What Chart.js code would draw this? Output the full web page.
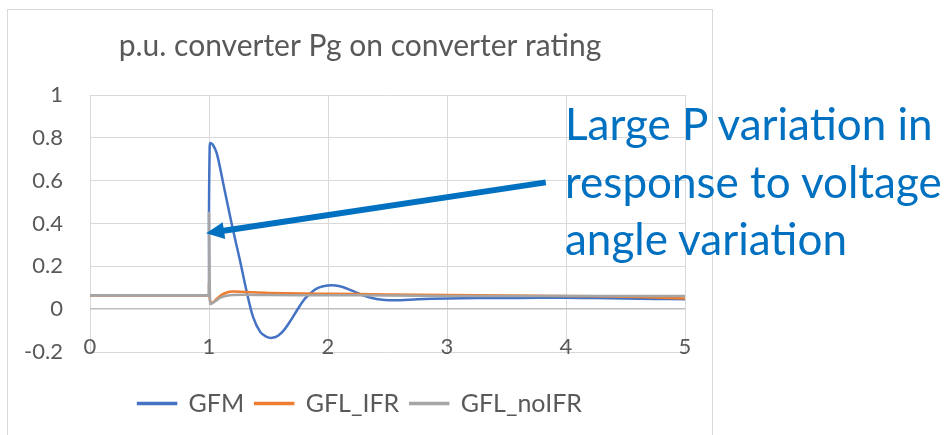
<!DOCTYPE html>
<html>
<head>
<meta charset="utf-8">
<script src="https://cdn.jsdelivr.net/npm/chart.js@4.4.1/dist/chart.umd.min.js"></script>
<style>
  html, body { margin: 0; padding: 0; background: #fff; }
  body { width: 950px; height: 435px; position: relative; overflow: hidden; }
  #frame {
    position: absolute; left: 7px; top: 9px; width: 704px; height: 440px;
    border: 1px solid #d9d9d9;
  }
  #chart { display: block; }
  #note {
    position: absolute; left: 565px; top: 95px;
    font-family: Lato, sans-serif; font-size: 44px; line-height: 57.5px;
    color: #0070C0; white-space: nowrap;
  }
</style>
</head>
<body>
<div id="frame"><canvas id="chart" width="704" height="425"></canvas></div>
<div id="note">Large P variation in<br>response to voltage<br>angle variation</div>
<script>
// --- 1. Data (time in s, power in p.u.) ---
const gfmTime = [0, 0.99, 1, 1, 1.005, 1.01, 1.03, 1.066, 1.12, 1.19, 1.26, 1.32, 1.37, 1.43, 1.48, 1.53, 1.58, 1.63, 1.69, 1.74, 1.8, 1.85, 1.9, 1.96, 2.03, 2.1, 2.16, 2.23, 2.3, 2.37, 2.44, 2.52, 2.61, 2.75, 3, 3.25, 3.5, 3.75, 4, 4.25, 4.5, 4.75, 5];
const gfmValues = [0.065, 0.065, 0.065, 0.47, 0.74, 0.775, 0.77, 0.726, 0.586, 0.40, 0.228, 0.073, -0.036, -0.106, -0.128, -0.134, -0.124, -0.098, -0.05, -0.005, 0.045, 0.073, 0.095, 0.107, 0.112, 0.107, 0.096, 0.08, 0.063, 0.052, 0.045, 0.042, 0.042, 0.046, 0.05, 0.052, 0.052, 0.053, 0.053, 0.052, 0.05, 0.048, 0.046];

const ifrTime = [0, 0.99, 1, 1, 1.01, 1.03, 1.06, 1.1, 1.15, 1.2, 1.3, 1.5, 1.8, 2, 2.5, 3, 3.5, 4, 4.5, 5];
const ifrValues = [0.065, 0.065, 0.065, 0.12, 0.035, 0.03, 0.045, 0.065, 0.078, 0.082, 0.08, 0.076, 0.073, 0.072, 0.069, 0.066, 0.064, 0.062, 0.058, 0.05];

const noIfrTime = [0, 0.99, 1, 1, 1.01, 1.03, 1.06, 1.1, 1.15, 1.2, 1.3, 1.5, 2, 2.5, 3, 3.5, 4, 4.5, 5];
const noIfrValues = [0.065, 0.065, 0.065, 0.45, 0.025, 0.028, 0.04, 0.055, 0.063, 0.066, 0.067, 0.066, 0.065, 0.064, 0.062, 0.062, 0.061, 0.062, 0.062];

const seriesNames = ['GFM', 'GFL_IFR', 'GFL_noIFR'];
const seriesColors = ['#4472C4', '#ED7D31', '#A5A5A5'];

// arrow annotation, in data units: tail -> head
const arrowFrom = [3.83, 0.592];
const arrowTo = [0.976, 0.354];

const toPoints = (xs, ys) => xs.map((x, i) => ({ x: x, y: ys[i] }));

// --- 2. Arrow plugin ---
const arrowPlugin = {
    id: 'arrow',
    afterDatasetsDraw(chart) {
        const { ctx, scales: { x, y } } = chart;
        const x0 = x.getPixelForValue(arrowFrom[0]), y0 = y.getPixelForValue(arrowFrom[1]);
        const x1 = x.getPixelForValue(arrowTo[0]), y1 = y.getPixelForValue(arrowTo[1]);
        const ang = Math.atan2(y1 - y0, x1 - x0);
        const headLen = 18, headHalf = 8.5;
        const bx = x1 - headLen * Math.cos(ang), by = y1 - headLen * Math.sin(ang);
        ctx.save();
        ctx.strokeStyle = '#0070C0';
        ctx.fillStyle = '#0070C0';
        ctx.lineWidth = 6;
        ctx.beginPath();
        ctx.moveTo(x0, y0);
        ctx.lineTo(bx + 2 * Math.cos(ang), by + 2 * Math.sin(ang));
        ctx.stroke();
        ctx.beginPath();
        ctx.moveTo(x1, y1);
        ctx.lineTo(bx - headHalf * Math.sin(ang), by + headHalf * Math.cos(ang));
        ctx.lineTo(bx + headHalf * Math.sin(ang), by - headHalf * Math.cos(ang));
        ctx.closePath();
        ctx.fill();
        ctx.restore();
    }
};

// --- 3. Chart ---
Chart.defaults.font.family = 'Lato, sans-serif';
Chart.defaults.color = '#595959';

const datasets = [
    { data: toPoints(gfmTime, gfmValues), order: 3 },
    { data: toPoints(ifrTime, ifrValues), order: 2 },
    { data: toPoints(noIfrTime, noIfrValues), order: 1 }
].map((d, i) => Object.assign(d, {
    label: seriesNames[i],
    borderColor: seriesColors[i],
    backgroundColor: seriesColors[i],
    borderWidth: 2.5,
    pointRadius: 0,
    tension: 0.3,
    fill: false
}));

new Chart(document.getElementById('chart'), {
    type: 'line',
    data: { datasets: datasets },
    plugins: [arrowPlugin],
    options: {
        responsive: false,
        animation: false,
        layout: { padding: { left: 0, right: 0, top: 0, bottom: 9 } },
        plugins: {
            title: {
                display: true,
                text: 'p.u. converter Pg on converter rating',
                color: '#595959',
                font: { size: 30, weight: 'normal' },
                padding: { top: 18, bottom: 31 }
            },
            legend: {
                position: 'bottom',
                labels: {
                    boxWidth: 38,
                    boxHeight: 1,
                    padding: 11,
                    color: '#595959',
                    font: { size: 25 },
                    sort: (a, b) => a.datasetIndex - b.datasetIndex
                }
            },
            tooltip: { enabled: false }
        },
        scales: {
            x: {
                type: 'linear',
                min: 0,
                max: 5,
                // labels sit just above the bottom gridline, like the Excel original
                ticks: { stepSize: 1, mirror: true, padding: -8, font: { size: 22 }, color: '#595959' },
                grid: { color: '#d9d9d9', drawTicks: false },
                border: { display: false },
                afterFit: s => { s.height = 28; }
            },
            y: {
                min: -0.2,
                max: 1,
                ticks: {
                    stepSize: 0.2,
                    padding: 27,
                    font: { size: 22 },
                    color: '#595959',
                    callback: v => String(+v.toFixed(1))
                },
                grid: {
                    drawTicks: false,
                    color: c => c.tick && Math.abs(c.tick.value) < 1e-9 ? '#bfbfbf' : '#d9d9d9',
                    lineWidth: c => c.tick && Math.abs(c.tick.value) < 1e-9 ? 1.5 : 1
                },
                border: { display: false },
                afterFit: s => { s.width = 82; }
            },
            // empty right margin so title and legend stay centred on the frame
            yPad: {
                position: 'right',
                ticks: { display: false },
                grid: { display: false },
                border: { display: false },
                afterFit: s => { s.width = 27; }
            }
        }
    }
});
</script>
</body>
</html>
